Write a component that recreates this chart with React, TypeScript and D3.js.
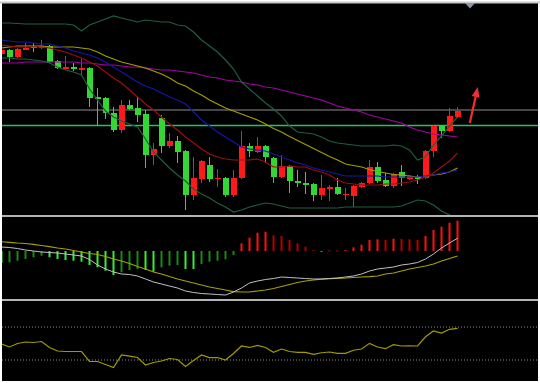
import React, { useEffect, useRef } from "react";
import * as d3 from "d3";

const W = 540;
const H = 383;

// Candles (price units)
const opens = [1946,1950,1943,1950.5,1953,1952,1954,1939,1931,1933,1930.5,1932,1903,1902,1887,1870,1895,1892,1886,1845,1882,1854,1859,1849,1805,1821,1835,1822,1822,1805,1822,1854,1848,1854,1842,1823,1834,1819,1817,1816,1805,1811,1813,1806,1804,1813,1817,1833,1820,1814,1828,1821,1823,1822,1849,1874,1869,1883];
const highs = [1951,1951,1952,1957,1957,1960,1955,1940,1944,1937,1941,1933,1912,1903,1893,1900,1900,1903,1890,1857,1885,1867,1864,1850,1843,1840,1843,1831,1823,1830,1869,1857,1863,1855,1843,1845,1835,1830,1828,1817,1825,1815,1822,1812,1815,1818,1840,1838,1827,1827,1835,1825,1825,1850,1875,1875,1892,1893];
const lows = [1945,1938,1942,1950,1948,1951,1937,1931,1931,1929,1925,1893,1875,1881,1868,1867,1890,1878,1832,1835,1847,1852,1837,1790,1800,1817,1818,1813,1803,1803,1821,1843,1847,1837,1817,1822,1807,1813,1806,1799,1800,1799,1805,1800,1793,1812,1816,1817,1813,1812,1814,1820,1816,1821,1843,1862,1868,1882];
const closes = [1950,1943,1951,1952,1952,1954,1938,1932,1933,1931,1932,1902,1901,1887,1870,1895,1891,1885,1845,1851,1854,1859,1848,1805,1822,1839,1821,1822.5,1805,1822,1854,1849,1854,1843,1823,1834,1819,1817,1815,1805,1812,1813,1806,1806.5,1814,1817,1833,1819,1814,1826,1822,1824,1821,1849,1874,1869,1884,1889];

// Main panel indicator lines
const bandUpper = [1977,1977,1976.5,1976,1976,1976,1976,1976,1976,1975,1969,1975,1978,1981,1984,1982,1980,1978,1980,1979,1978,1978,1975,1974,1968,1960,1954,1948,1940,1931,1918,1911,1904,1897,1891,1884,1874,1868,1867,1866,1863,1859,1857,1856,1855,1854,1854,1854,1854,1855,1854,1850,1840,1843,1855,1864,1874,1883];
const bandLower = [1942,1942,1941,1941,1940,1939,1937,1933,1930,1928,1925,1911,1900,1889,1883,1879,1876,1873,1861,1848,1840,1832,1825,1819,1811,1806,1802,1797,1793,1788,1790,1793,1795,1797,1796,1794,1792,1792,1792,1792,1792,1792,1792,1793,1793,1793,1793,1793,1793,1793,1794,1797,1800,1799,1795,1789,1785,1782];
const maBlue = [1960,1959,1958,1958,1957,1956,1956,1954,1952,1949,1947,1945,1942,1938,1933,1928,1923,1918,1914,1911,1907,1903,1900,1896,1888,1880,1874,1868,1863,1858,1853,1851,1850,1849,1846,1843,1840,1837,1835,1832,1830,1828,1826,1824,1824,1824,1824,1824,1823,1823,1823,1823,1823,1824,1825,1827,1828,1830];
const maRed = [1955,1954,1953,1953,1953,1953,1952,1950,1948,1945,1942,1938,1934,1928,1922,1917,1910,1903,1896,1890,1883,1876,1870,1863,1857,1851,1846,1843,1841,1840,1840,1840,1841,1838,1833,1833,1834,1833,1833,1830,1828,1825,1820,1817,1816,1815,1815,1815,1816,1816,1817,1818,1820,1823,1827,1833,1839,1847];
const maYellow = [1952,1953,1954,1954,1954,1954,1953,1953,1953,1953,1952,1951,1948,1944,1941,1938,1936,1934,1932,1929,1926,1922,1917,1914,1909,1905,1900,1896,1892,1889,1886,1883,1880,1876,1871.5,1868,1863.5,1859.5,1855.5,1851.5,1847.5,1843.5,1840,1836,1834.5,1833,1830.5,1828.5,1827,1825.5,1825,1824,1823,1823.5,1825,1826,1828,1832];
const maPurple = [1937,1937,1937,1938,1938,1938,1938,1938,1938,1938,1937,1937,1936,1935,1935,1934,1933,1933,1932,1931,1930,1930,1929,1928,1927,1925,1923,1922,1920,1919,1918,1916,1915,1913,1912,1910,1908,1906,1904,1902,1900,1897,1894,1892,1890,1888,1885,1883,1881,1879,1877,1873,1870,1868,1866,1865,1864,1863];

// Horizontal levels
const levelGray = 1890;
const levelGreen = 1874.5;

// MACD panel
const macdHist = [-1.2,-1.13,-0.97,-0.8,-0.63,-0.47,-0.63,-0.8,-0.9,-0.97,-1.07,-1.4,-1.63,-1.97,-2.4,-2.13,-1.9,-1.8,-1.9,-2.07,-1.63,-1.47,-1.4,-1.8,-1.8,-1.3,-1.07,-0.97,-0.83,-0.4,0.77,1.33,1.83,1.93,1.57,1.5,1.1,0.77,0.43,0.1,-0.05,0.05,0.05,0.1,0.37,0.63,1.1,1.17,1.1,1.23,1.2,1.17,1.1,1.5,2.1,2.43,2.83,3.03];
const macdLine = [0.4,0.35,0.25,0.1,0,-0.1,-0.15,-0.2,-0.3,-0.4,-0.5,-0.85,-1.4,-1.8,-2.1,-2.3,-2.35,-2.5,-2.8,-3.1,-3.3,-3.5,-3.7,-4.0,-4.15,-4.25,-4.3,-4.35,-4.4,-4.1,-3.7,-3.2,-3.0,-2.85,-2.75,-2.6,-2.65,-2.7,-2.75,-2.8,-2.8,-2.75,-2.7,-2.6,-2.5,-2.3,-2.0,-1.8,-1.7,-1.6,-1.4,-1.3,-1.15,-0.8,-0.3,0.3,0.8,1.27];
const signalLine = [0.93,0.87,0.8,0.75,0.67,0.55,0.43,0.3,0.2,0.05,-0.1,-0.25,-0.35,-0.55,-0.8,-1.0,-1.25,-1.55,-1.8,-2.1,-2.3,-2.55,-2.8,-3.0,-3.2,-3.4,-3.6,-3.75,-3.9,-4.07,-4.1,-4.1,-4.0,-3.9,-3.75,-3.55,-3.35,-3.15,-3.0,-2.9,-2.82,-2.77,-2.73,-2.7,-2.65,-2.6,-2.57,-2.5,-2.3,-2.2,-2.0,-1.8,-1.65,-1.5,-1.3,-1.0,-0.75,-0.5];

// RSI panel
const rsi = [49.4,45.8,50.0,51.8,51.2,52.4,45.2,40.9,40.3,40.3,40.3,28.2,28.2,24.5,20.9,36.1,34.8,33.0,23.9,27.0,28.8,31.8,30.6,22.1,29.4,36.1,33.0,33.0,30.0,37.9,47.0,45.2,47.6,45.2,39.3,43.3,40.3,39.3,39.3,36.9,38.8,39.7,38.1,38.1,41.8,43.3,50.2,45.8,43.7,48.5,47.0,47.3,47.0,58.2,65.2,62.7,67.2,68.4];
const rsiLevels = [70, 30];

// Arrow (index, price)
const arrowFrom = { i: 58.6, p: 1877 };
const arrowTo = { i: 59.6, p: 1913 };

export default function App() {
  const ref = useRef<SVGSVGElement>(null);

  useEffect(() => {
    const svg = d3.select(ref.current);
    svg.selectAll("*").remove();
    const n = closes.length;

    const x = d3.scaleLinear().domain([0, 57]).range([1, 457]);
    const yMain = d3.scaleLinear().domain([1785, 1997]).range([215, 3]);
    const yMacd = d3.scaleLinear().domain([-4.8, 3.4]).range([299, 217]);
    const yRsi = d3.scaleLinear().domain([0, 100]).range([384.75, 302.25]);

    svg.append("rect").attr("width", W).attr("height", H).attr("fill", "#ffffff");
    svg.append("rect").attr("x", 2).attr("y", 2).attr("width", 536).attr("height", 379).attr("fill", "#000000");

    const defs = svg.append("defs");
    defs.append("clipPath").attr("id", "clipMain").append("rect").attr("x", 2).attr("y", 4).attr("width", 536).attr("height", 211);
    defs.append("clipPath").attr("id", "clipMacd").append("rect").attr("x", 2).attr("y", 217).attr("width", 536).attr("height", 82);
    defs.append("clipPath").attr("id", "clipRsi").append("rect").attr("x", 2).attr("y", 301).attr("width", 536).attr("height", 80);

    // ---- Main panel
    const gm = svg.append("g").attr("clip-path", "url(#clipMain)");
    gm.append("line").attr("x1", 2).attr("x2", 538).attr("y1", yMain(levelGray)).attr("y2", yMain(levelGray))
      .attr("stroke", "#464646").attr("stroke-width", 2);
    gm.append("line").attr("x1", 2).attr("x2", 538).attr("y1", yMain(levelGreen)).attr("y2", yMain(levelGreen))
      .attr("stroke", "#22c46a").attr("stroke-width", 1.5);

    const idx = d3.range(n);
    const up = (i: number) => closes[i] >= opens[i];
    const colUp = "#ff1a1a";
    const colDn = "#33d633";

    gm.selectAll("rect.wick").data(idx).enter().append("rect")
      .attr("x", (i) => x(i))
      .attr("width", 1)
      .attr("y", (i) => yMain(highs[i]))
      .attr("height", (i) => yMain(lows[i]) - yMain(highs[i]))
      .attr("fill", (i) => (up(i) ? colUp : colDn));

    gm.selectAll("rect.body").data(idx).enter().append("rect")
      .attr("x", (i) => x(i) - 2.5)
      .attr("width", 6)
      .attr("y", (i) => yMain(Math.max(opens[i], closes[i])))
      .attr("height", (i) => Math.max(1.2, Math.abs(yMain(opens[i]) - yMain(closes[i]))))
      .attr("fill", (i) => (up(i) ? colUp : colDn))
      .attr("shape-rendering", "crispEdges");

    const lineGen = (ys: d3.ScaleLinear<number, number>, arr: number[]) =>
      d3.line<number>().x((_, i) => x(i) + 0.5).y((d) => ys(d))(arr) as string;

    const mainLines: [number[], string][] = [
      [maPurple, "#a600a6"],
      [maYellow, "#a39c00"],
      [maBlue, "#1616a8"],
      [maRed, "#a00c0c"],
      [bandUpper, "#1f5e3e"],
      [bandLower, "#1f5e3e"],
    ];
    mainLines.forEach(([arr, c]) => {
      gm.append("path").attr("d", lineGen(yMain, arr)).attr("fill", "none").attr("stroke", c).attr("stroke-width", 1.2);
    });

    // arrow
    const ax0 = x(arrowFrom.i), ay0 = yMain(arrowFrom.p);
    const ax1 = x(arrowTo.i), ay1 = yMain(arrowTo.p);
    const ang = Math.atan2(ay1 - ay0, ax1 - ax0);
    const headLen = 10, headW = 4;
    const bx = ax1 - headLen * Math.cos(ang), by = ay1 - headLen * Math.sin(ang);
    const nx = -Math.sin(ang), ny = Math.cos(ang);
    gm.append("line").attr("x1", ax0).attr("y1", ay0).attr("x2", bx).attr("y2", by)
      .attr("stroke", "#f03030").attr("stroke-width", 2.2);
    gm.append("polygon")
      .attr("points", [[ax1, ay1], [bx + nx * headW, by + ny * headW], [bx - nx * headW, by - ny * headW]].map((p) => p.join(",")).join(" "))
      .attr("fill", "#f03030");

    // ---- MACD panel
    const gd = svg.append("g").attr("clip-path", "url(#clipMacd)");
    gd.selectAll("rect.hist").data(idx).enter().append("rect")
      .attr("x", (i) => x(i) - 0.5)
      .attr("width", 2)
      .attr("y", (i) => Math.min(yMacd(0), yMacd(macdHist[i])))
      .attr("height", (i) => Math.max(0.8, Math.abs(yMacd(macdHist[i]) - yMacd(0))))
      .attr("fill", (i) => {
        const v = macdHist[i];
        const prev = i > 0 ? macdHist[i - 1] : v * 0.9;
        const growing = Math.abs(v) >= Math.abs(prev) || Math.sign(v) !== Math.sign(prev);
        if (v >= 0) return growing ? "#ff1010" : "#b00000";
        return growing ? "#33ee33" : "#168a16";
      });
    gd.append("path").attr("d", lineGen(yMacd, signalLine)).attr("fill", "none").attr("stroke", "#a6a000").attr("stroke-width", 1.2);
    gd.append("path").attr("d", lineGen(yMacd, macdLine)).attr("fill", "none").attr("stroke", "#c0c0c0").attr("stroke-width", 1);

    // ---- RSI panel
    const gr = svg.append("g").attr("clip-path", "url(#clipRsi)");
    rsiLevels.forEach((lv) => {
      gr.append("line").attr("x1", 2).attr("x2", 538).attr("y1", yRsi(lv)).attr("y2", yRsi(lv))
        .attr("stroke", "#8a8a8a").attr("stroke-width", 1).attr("stroke-dasharray", "1,2");
    });
    gr.append("path").attr("d", lineGen(yRsi, rsi)).attr("fill", "none").attr("stroke", "#a09a00").attr("stroke-width", 1.2);

    // ---- Frame / separators
    svg.append("line").attr("x1", 0).attr("x2", W).attr("y1", 2.5).attr("y2", 2.5).attr("stroke", "#c8c8c8").attr("stroke-width", 2);
    svg.append("line").attr("x1", 2).attr("x2", 538).attr("y1", 216).attr("y2", 216).attr("stroke", "#b4b4b4").attr("stroke-width", 2);
    svg.append("line").attr("x1", 2).attr("x2", 538).attr("y1", 300).attr("y2", 300).attr("stroke", "#b4b4b4").attr("stroke-width", 2);
    svg.append("polygon").attr("points", "465,3 475,3 470,8.5").attr("fill", "#8898a8");
  }, []);

  return (
    <svg
      ref={ref}
      width={W}
      height={H}
      style={{ position: "fixed", left: 0, top: 0, display: "block" }}
    />
  );
}
